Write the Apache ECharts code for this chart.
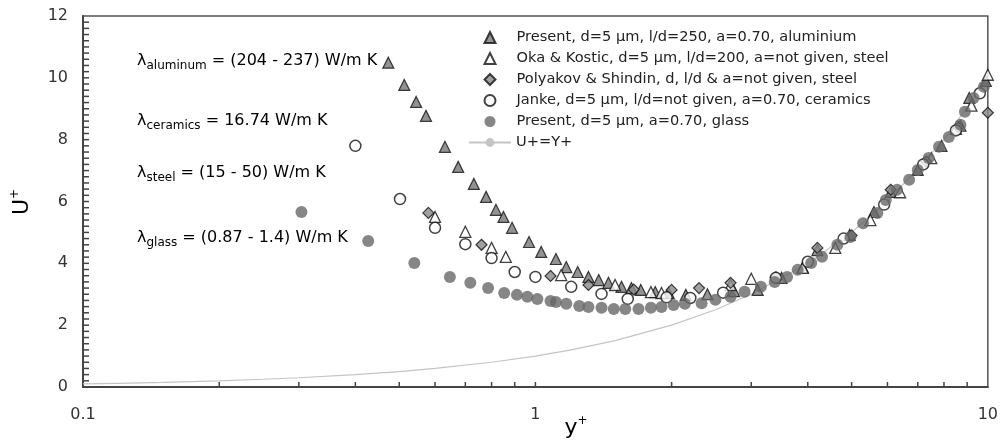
<!DOCTYPE html>
<html>
<head>
<meta charset="utf-8">
<script src="https://cdn.jsdelivr.net/npm/echarts@6/dist/echarts.min.js"></script>
<style>
  html, body { margin: 0; padding: 0; background: #fff; }
  #main { width: 1001px; height: 442px; }
</style>
</head>
<body>
<div id="main"></div>
<script>
// 数据
var aluX = [0.473, 0.513, 0.545, 0.573, 0.631, 0.675, 0.731, 0.778, 0.818, 0.85, 0.888, 0.968, 1.03, 1.11, 1.17, 1.24, 1.31, 1.38, 1.45, 1.55, 1.63, 1.71, 1.84, 1.97, 2.15, 2.4, 2.75, 3.1, 3.5, 3.9, 4.2, 4.95, 5.6, 6.1, 7.0, 7.9, 8.7, 9.1, 9.9]
var aluY = [10.49, 9.77, 9.22, 8.77, 7.77, 7.12, 6.57, 6.15, 5.73, 5.5, 5.15, 4.69, 4.37, 4.14, 3.88, 3.72, 3.56, 3.46, 3.37, 3.24, 3.2, 3.14, 3.07, 3.04, 2.98, 3.0, 3.1, 3.14, 3.53, 3.88, 4.43, 4.92, 5.66, 6.31, 7.02, 7.8, 8.45, 9.35, 9.9]

var okaX = [0.60, 0.70, 0.80, 0.86, 1.14, 1.5, 1.8, 1.9, 2.7, 3.0, 3.9, 4.6, 5.5, 6.4, 7.5, 8.5, 9.2, 10]
var okaY = [5.5, 5.02, 4.5, 4.21, 3.62, 3.3, 3.07, 3.04, 3.3, 3.5, 3.85, 4.5, 5.4, 6.3, 7.4, 8.35, 9.1, 10.1]

var polyX = [0.58, 0.76, 1.08, 1.31, 1.65, 2.0, 2.3, 2.7, 3.4, 4.2, 5.0, 6.1, 7.3, 8.6, 10]
var polyY = [5.63, 4.6, 3.59, 3.3, 3.15, 3.14, 3.2, 3.37, 3.55, 4.5, 4.9, 6.38, 7.3, 8.41, 8.87]

var janX = [0.40, 0.502, 0.60, 0.70, 0.80, 0.90, 1.0, 1.2, 1.4, 1.6, 1.95, 2.2, 2.6, 3.4, 4.0, 4.8, 5.9, 7.2, 8.5, 9.6]
var janY = [7.8, 6.08, 5.15, 4.62, 4.17, 3.72, 3.56, 3.24, 3.01, 2.85, 2.9, 2.88, 3.05, 3.53, 4.05, 4.8, 5.9, 7.2, 8.3, 9.5]

var glassX = [0.304, 0.427, 0.540, 0.647, 0.718, 0.786, 0.853, 0.91, 0.96, 1.01, 1.08, 1.11, 1.17, 1.25, 1.31, 1.40, 1.49, 1.58, 1.69, 1.80, 1.90, 2.02, 2.14, 2.33, 2.5, 2.7, 2.9, 3.15, 3.38, 3.6, 3.8, 4.07, 4.3, 4.65, 4.97, 5.3, 5.7, 5.95, 6.3, 6.7, 7.0, 7.4, 7.8, 8.2, 8.7, 8.9, 9.3, 9.8]
var glassY = [5.66, 4.72, 4.01, 3.56, 3.37, 3.2, 3.04, 2.98, 2.92, 2.85, 2.78, 2.75, 2.69, 2.62, 2.59, 2.56, 2.52, 2.52, 2.52, 2.56, 2.59, 2.65, 2.69, 2.71, 2.82, 2.92, 3.08, 3.24, 3.4, 3.56, 3.79, 4.01, 4.21, 4.6, 4.85, 5.3, 5.63, 6.05, 6.38, 6.7, 7.02, 7.41, 7.77, 8.09, 8.48, 8.9, 9.35, 9.71]

// U+=Y+
var lawX = [0.1, 0.12, 0.15, 0.2, 0.25, 0.3, 0.4, 0.5, 0.6, 0.8, 1, 1.2, 1.5, 2, 2.5, 3, 4, 5, 6, 8, 10]
var lawY = [0.1, 0.12, 0.15, 0.2, 0.25, 0.3, 0.4, 0.5, 0.6, 0.8, 1, 1.2, 1.5, 2, 2.5, 3, 4, 5, 6, 8, 10]

// tick marks (log x minor ticks, y ticks every 0.2)
var xMinor = [0.2, 0.3, 0.4, 0.5, 0.6, 0.7, 0.8, 0.9, 1, 2, 3, 4, 5, 6, 7, 8, 9]
var yMinor = []
for (var k = 1; k < 60; k++) yMinor.push(Math.round(k * 2) / 10)

var names = [
    "Present, d=5 µm, l/d=250, a=0.70, aluminium",
    "Oka & Kostic, d=5 µm, l/d=200, a=not given, steel",
    "Polyakov & Shindin, d, l/d & a=not given, steel",
    "Janke, d=5 µm, l/d=not given, a=0.70, ceramics",
    "Present, d=5 µm, a=0.70, glass",
    "U+=Y+"
]

function pairs(xs, ys) {
    return xs.map(function (x, i) { return [x, ys[i]] })
}

var FONT = "DejaVu Sans"
var myChart = echarts.init(document.getElementById('main'))

var annRich = {
    m: { fontSize: 16, fontFamily: FONT, color: '#222', lineHeight: 22, verticalAlign: 'middle' },
    s: { fontSize: 12, fontFamily: FONT, color: '#222', lineHeight: 22, verticalAlign: 'bottom' }
}
function ann(sub, rest, y) {
    return {
        type: 'text', x: 137, y: y,
        style: { text: '{m|λ}{s|' + sub + '}{m|' + rest + '}', rich: annRich, verticalAlign: 'middle' }
    }
}
function titleText(a, b, x, y, rot) {
    return {
        type: 'text', x: x, y: y, rotation: rot,
        style: {
            text: '{a|' + a + '}{b|' + b + '}', align: 'center', verticalAlign: 'middle',
            rich: {
                a: { fontSize: 22, fontFamily: FONT, color: '#222', lineHeight: 26, verticalAlign: 'middle' },
                b: { fontSize: 12, fontFamily: FONT, color: '#222', lineHeight: 26, verticalAlign: 'top' }
            }
        }
    }
}

// 刻度 (ticks drawn inward through the axes' scales)
function tickSeries(vals, isX) {
    return {
        type: 'custom', silent: true, z: 4,
        data: vals.map(function (v) { return isX ? [v, 0] : [0.1, v] }),
        renderItem: function (params, api) {
            var p = api.coord([api.value(0), api.value(1)])
            return {
                type: 'line',
                shape: isX ? { x1: p[0], y1: p[1], x2: p[0], y2: p[1] - 5 }
                           : { x1: p[0], y1: p[1], x2: p[0] + 6, y2: p[1] },
                style: { stroke: '#444', lineWidth: 1.5 }
            }
        }
    }
}

var legendText = { fontSize: 14.6, fontFamily: FONT, color: '#222', lineHeight: 15 }

var option = {
    animation: false,
    grid: { left: 83, right: 11, top: 16, bottom: 55, show: true, borderColor: '#555', borderWidth: 1.5 },
    xAxis: {
        type: 'log', logBase: 10, min: 0.1, max: 10,
        axisLine: { lineStyle: { color: '#444', width: 2 } },
        axisTick: { show: false },
        splitLine: { show: false },
        axisLabel: { fontSize: 16, fontFamily: FONT, color: '#333', margin: 20 }
    },
    yAxis: {
        type: 'value', min: 0, max: 12, interval: 2,
        axisLine: { show: true, lineStyle: { color: '#444', width: 2 } },
        axisTick: { show: false },
        splitLine: { show: false },
        axisLabel: { fontSize: 16, fontFamily: FONT, color: '#333', margin: 15 }
    },
    legend: [
        {
            data: names.slice(0, 5),
            orient: 'vertical',
            left: 483.5, top: 30, padding: 0,
            itemWidth: 11, itemHeight: 11, itemGap: 6,
            textStyle: Object.assign({ padding: [0, 0, 0, 16] }, legendText)
        },
        {
            data: [names[5]],
            orient: 'vertical',
            left: 468, top: 135, padding: 0,
            itemWidth: 42, itemHeight: 11,
            textStyle: legendText
        }
    ],
    graphic: [
        ann('aluminum', ' = (204 - 237) W/m K', 61),
        ann('ceramics', ' = 16.74 W/m K', 121),
        ann('steel', ' = (15 - 50) W/m K', 173),
        ann('glass', ' = (0.87 - 1.4) W/m K', 238),
        titleText('y', '+', 576, 428, 0),
        titleText('U', '+', 22, 202, Math.PI / 2)
    ],
    series: [
        {
            name: names[5], type: 'line', data: pairs(lawX, lawY),
            symbol: 'none', lineStyle: { color: '#c4c4c4', width: 1.2 }, itemStyle: { color: '#c4c4c4' }, z: 1
        },
        {
            name: names[0], type: 'scatter', data: pairs(aluX, aluY),
            symbol: 'triangle', symbolSize: 11,
            itemStyle: { color: '#777', borderColor: '#111', borderWidth: 1.2 }, z: 2
        },
        {
            name: names[1], type: 'scatter', data: pairs(okaX, okaY),
            symbol: 'triangle', symbolSize: 11,
            itemStyle: { color: '#fff', borderColor: '#111', borderWidth: 1.3 }, z: 2
        },
        {
            name: names[2], type: 'scatter', data: pairs(polyX, polyY),
            symbol: 'diamond', symbolSize: 11,
            itemStyle: { color: '#8a8a8a', borderColor: '#111', borderWidth: 1.2 }, z: 2
        },
        {
            name: names[3], type: 'scatter', data: pairs(janX, janY),
            symbol: 'circle', symbolSize: 11,
            itemStyle: { color: '#fff', borderColor: '#111', borderWidth: 1.5 }, z: 2
        },
        {
            name: names[4], type: 'scatter', data: pairs(glassX, glassY),
            symbol: 'circle', symbolSize: 12,
            itemStyle: { color: '#686868' }, z: 3
        },
        tickSeries(xMinor, true),
        tickSeries(yMinor, false)
    ]
}

myChart.setOption(option)
</script>
</body>
</html>
